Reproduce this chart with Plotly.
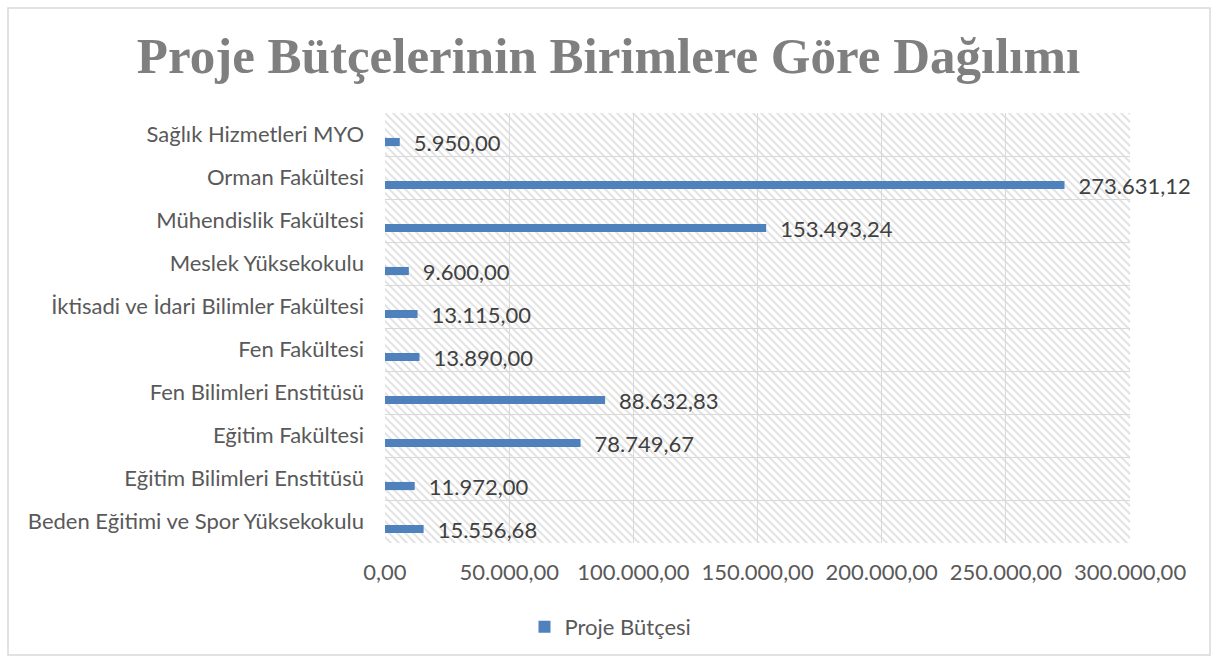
import base64
import plotly.graph_objects as go

categories = [
    "Beden Eğitimi ve Spor Yüksekokulu",
    "Eğitim Bilimleri Enstitüsü",
    "Eğitim Fakültesi",
    "Fen Bilimleri Enstitüsü",
    "Fen Fakültesi",
    "İktisadi ve İdari Bilimler Fakültesi",
    "Meslek Yüksekokulu",
    "Mühendislik Fakültesi",
    "Orman Fakültesi",
    "Sağlık Hizmetleri MYO",
]
budget = [15556.68, 11972.00, 78749.67, 88632.83, 13890.00,
          13115.00, 9600.00, 153493.24, 273631.12, 5950.00]
series_name = "Proje Bütçesi"
title_text = "Proje Bütçelerinin Birimlere Göre Dağılımı"
x_ticks = [0, 50000, 100000, 150000, 200000, 250000, 300000]

W, H = 1217, 661
L, R, T, B = 385, 87, 113, 118
pw, ph = W - L - R, H - T - B
FONT = "Lato, Open Sans, sans-serif"

positions = list(range(len(categories)))

# hatch background image
svg = f'''<svg xmlns="http://www.w3.org/2000/svg" width="{pw}" height="{ph}">
<defs><pattern id="h" patternUnits="userSpaceOnUse" width="8" height="8">
<path d="M-2,-2 L10,10 M-2,6 L2,10 M6,-2 L10,2" stroke="#e3e3e3" stroke-width="2"/>
</pattern></defs>
<rect width="100%" height="100%" fill="white"/>
<rect width="100%" height="100%" fill="url(#h)"/>
</svg>'''
img_src = "data:image/svg+xml;base64," + base64.b64encode(svg.encode()).decode()

fig = go.Figure()
fig.add_trace(go.Bar(
    y=positions, x=budget, orientation="h", name=series_name,
    marker=dict(color="#4f81bd", line=dict(width=0)),
    width=0.19, offset=-0.27,
    texttemplate="\u2002%{x:,.2f}", textposition="outside", constraintext="none",
    textfont=dict(family=FONT, size=22, color="#404040"),
    cliponaxis=False,
    hoverinfo="x+y",
))

fig.update_layout(
    width=W, height=H,
    margin=dict(l=L, r=R, t=T, b=B),
    paper_bgcolor="white", plot_bgcolor="rgba(0,0,0,0)",
    separators=",.",
    title=dict(text=f"<b>{title_text}</b>", x=0.5, xref="container", xanchor="center",
               y=1 - 55 / H, yref="container", yanchor="middle",
               font=dict(family="Liberation Serif, DejaVu Serif, serif", size=51, color="#7f7f7f")),
    xaxis=dict(range=[0, 300000], tickvals=x_ticks, tickformat=",.2f",
               showgrid=True, gridcolor="#d9d9d9", gridwidth=1,
               zeroline=False, showline=False, ticks="", ticklabelstandoff=14,
               tickfont=dict(family=FONT, size=22, color="#595959"),
               fixedrange=True),
    yaxis=dict(range=[-0.5, len(categories) - 0.5], tickvals=positions, ticktext=categories,
               showgrid=False, zeroline=False, showline=False, ticks="", ticklabelstandoff=20,
               minor=dict(tick0=-0.5, dtick=1, showgrid=True, gridcolor="#d9d9d9", gridwidth=1),
               tickfont=dict(family=FONT, size=22, color="#595959"),
               fixedrange=True),
    showlegend=True,
    legend=dict(orientation="h", x=(W / 2 + 2 - L) / pw, xanchor="center",
                y=-(627 - (T + ph)) / ph, yanchor="middle",
                font=dict(family=FONT, size=22, color="#595959")),
    images=[dict(source=img_src, xref="paper", yref="paper", x=0, y=1,
                 sizex=1, sizey=1, sizing="stretch", layer="below",
                 xanchor="left", yanchor="top")],
    shapes=[dict(type="rect", xref="paper", yref="paper",
                 x0=(8 - L) / pw, x1=(W - 7 - L) / pw,
                 y0=-(H - 6 - (T + ph)) / ph, y1=1 + (T - 8) / ph,
                 line=dict(color="#d9d9d9", width=1.5), fillcolor="rgba(0,0,0,0)",
                 layer="below")],
)

fig.write_html("out.html", config={"displayModeBar": False},
               post_script="document.body.style.margin='0';document.body.style.overflow='hidden';")
